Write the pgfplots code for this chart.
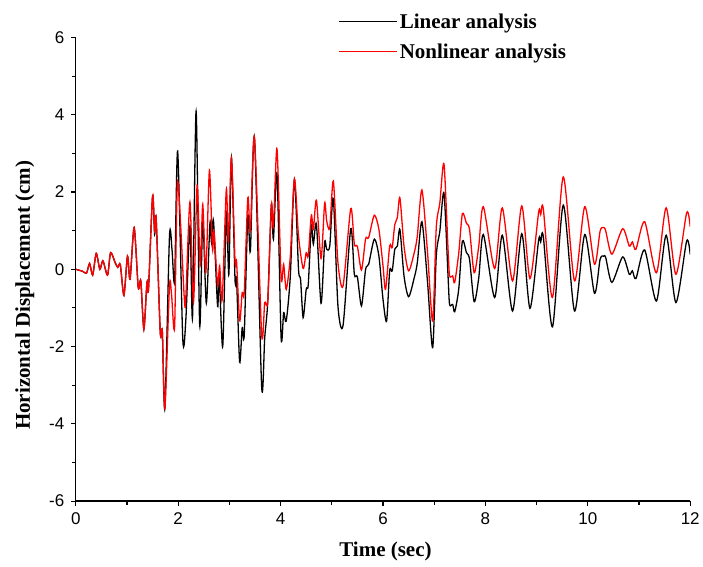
\documentclass[border={12bp 2.5bp 0bp 11.5bp}]{standalone}
\usepackage{fontspec}
\setmainfont{Liberation Serif}
\newfontfamily\arialfont{Liberation Sans}
\usepackage{pgfplots}
\pgfplotsset{compat=1.18}
\begin{document}
\begin{tikzpicture}
\begin{axis}[
  scale only axis,
  width=615bp, height=464bp,
  xmin=0, xmax=12, ymin=-6, ymax=6,
  axis lines*=left,
  axis line style={line width=1.3bp},
  tick align=outside,
  tick style={line width=1.1bp, black},
  major tick length=5bp, minor tick length=3.5bp,
  xtick={0,2,...,12}, ytick={-6,-4,...,6},
  minor x tick num=1, minor y tick num=1,
  /pgf/number format/assume math mode=true,
  tick label style={font=\arialfont\fontsize{17bp}{19bp}\selectfont},
  xticklabel style={yshift=-3bp},
  yticklabel style={xshift=-3bp},
  xlabel={Time (sec)},
  ylabel={Horizontal Displacement (cm)},
  label style={font=\bfseries\fontsize{21bp}{23bp}\selectfont},
  xlabel style={at={(ticklabel cs:0.504)}, anchor=north, yshift=-10bp},
  ylabel style={at={(ticklabel cs:0.444)}, anchor=south, yshift=8bp},
  legend style={draw=none, fill=none, at={(rel axis cs:0.4265,1.0565)}, anchor=north west,
    font=\bfseries\fontsize{21bp}{23bp}\selectfont, row sep=10bp, inner sep=0bp},
  legend cell align=left,
  legend image code/.code={\draw[#1, line width=1.8bp] (0bp,0bp) -- (58bp,0bp);},
  clip=true,
]
\addplot[black, line width=1.3bp, smooth, tension=0.45] coordinates {
(0,0) (0.13,-0.05) (0.21,-0.1) (0.27,0.15) (0.33,-0.15) (0.40,0.41) (0.47,0.0)
(0.53,0.22) (0.62,-0.15) (0.68,0.43) (0.77,0.17) (0.82,0.05) (0.87,0.12)
(0.94,-0.67) (1.01,0.34) (1.06,-0.26) (1.14,1.08) (1.22,-0.47) (1.27,-0.3)
(1.33,-1.55) (1.39,-0.34) (1.42,-0.52) (1.50,1.9) (1.54,0.9) (1.57,1.31)
(1.65,-1.63) (1.69,-1.6) (1.74,-3.6) (1.83,0.85) (1.88,0.5) (1.93,-0.3)
(1.99,3.06) (2.09,-1.81) (2.15,-1.29) (2.23,1.12) (2.28,-1.25) (2.35,4.09)
(2.42,-1.45) (2.48,1.25) (2.55,-0.88) (2.62,1.19) (2.65,0.7) (2.69,1.25)
(2.77,-0.96) (2.80,-0.1) (2.87,-2.0) (2.94,1.42) (2.99,-0.13) (3.04,2.89)
(3.11,-0.26) (3.14,-0.26) (3.20,-2.4) (3.25,-1.51) (3.29,-1.7) (3.36,1.38)
(3.41,0.47) (3.49,3.4) (3.63,-3.03) (3.69,-1.77) (3.75,-0.82) (3.82,1.68)
(3.86,0.78) (3.93,2.46) (4.01,-1.77) (4.06,-1.12) (4.11,-1.34) (4.19,-0.17)
(4.27,2.33) (4.35,0) (4.39,-0.26) (4.44,-1.25) (4.50,-0.52) (4.54,-0.4)
(4.60,1.12) (4.64,0.65) (4.70,1.16) (4.79,-0.88) (4.86,0.69) (4.90,0.52)
(4.96,0.6) (5.03,1.83) (5.12,-0.95) (5.22,-1.45) (5.37,1.05) (5.44,-0.13)
(5.50,-0.2) (5.58,-0.95) (5.66,0) (5.72,0.13) (5.83,0.78) (5.92,0.34)
(6.00,-0.78) (6.07,-1.34) (6.13,-0.04) (6.18,-0.04) (6.23,0.52) (6.28,0.6)
(6.33,1.03) (6.41,-0.17) (6.50,-0.71) (6.61,-0.22) (6.67,0.17) (6.76,1.23)
(6.87,-0.34) (6.97,-2.03) (7.04,0.34) (7.11,0.99) (7.19,1.98) (7.27,-0.17)
(7.30,-0.91) (7.36,-0.91) (7.40,-1.1) (7.48,-0.5) (7.55,0.73) (7.63,0.43)
(7.69,0.26) (7.78,-0.84) (7.87,-0.22) (7.96,0.9) (8.18,-0.73) (8.33,0.88)
(8.53,-1.08) (8.71,0.92) (8.87,-1.01) (9.04,0.76) (9.08,0.71) (9.13,0.85)
(9.31,-1.49) (9.52,1.66) (9.74,-1.08) (9.94,0.9) (10.13,-0.62) (10.24,0.26)
(10.31,0.34) (10.35,0.3) (10.47,-0.34) (10.68,0.32) (10.81,-0.13) (10.87,-0.04)
(10.94,-0.24) (11.11,0.50) (11.34,-0.82) (11.53,0.88) (11.72,-0.86)
(11.93,0.73) (12.0,0.38)
};
\addlegendentry{Linear analysis}
\addplot[red, line width=1.3bp, smooth, tension=0.45] coordinates {
(0,0) (0.13,-0.05) (0.21,-0.1) (0.27,0.15) (0.33,-0.15) (0.40,0.41) (0.47,0.0)
(0.53,0.22) (0.62,-0.15) (0.68,0.43) (0.77,0.17) (0.82,0.05) (0.87,0.12)
(0.94,-0.67) (1.01,0.34) (1.06,-0.26) (1.14,1.08) (1.22,-0.47) (1.27,-0.3)
(1.33,-1.55) (1.39,-0.34) (1.42,-0.52) (1.50,1.9) (1.54,0.97) (1.57,1.31)
(1.65,-1.63) (1.69,-1.6) (1.74,-3.6) (1.83,-0.43) (1.87,-0.65) (1.93,-1.5)
(1.99,2.28) (2.12,-0.76) (2.15,-0.7) (2.23,1.74) (2.30,-0.84) (2.37,2.17)
(2.43,0.09) (2.48,1.68) (2.54,-0.09) (2.61,2.56) (2.67,0.52) (2.70,0.99)
(2.77,-0.43) (2.81,0.09) (2.86,-0.78) (2.94,2.07) (2.98,0.7) (3.04,2.89)
(3.11,0.22) (3.14,0.2) (3.20,-1.34) (3.25,-0.6) (3.29,-0.6) (3.36,1.85)
(3.41,0.98) (3.49,3.4) (3.63,-1.68) (3.69,-0.86) (3.75,-0.82) (3.82,1.66)
(3.86,1.1) (3.93,3.12) (4.01,-0.22) (4.06,0.13) (4.11,-0.52) (4.19,0.34)
(4.27,2.34) (4.35,0.86) (4.44,0.02) (4.50,0.43) (4.54,0.35) (4.60,1.4)
(4.64,1.03) (4.70,1.79) (4.79,0.28) (4.86,1.71) (4.90,1.25) (4.96,1.07)
(5.03,2.28) (5.12,0.17) (5.22,-0.43) (5.37,1.57) (5.44,0.65) (5.50,0.59)
(5.58,-0.02) (5.66,0.79) (5.72,0.82) (5.83,1.4) (5.92,1.03) (6.00,0.09)
(6.05,-0.52) (6.13,0.6) (6.18,0.56) (6.23,1.16) (6.28,1.34) (6.33,1.85)
(6.41,0.6) (6.50,-0.04) (6.61,0.43) (6.67,0.86) (6.76,2.05) (6.87,0.43)
(6.97,-1.34) (7.04,1.08) (7.11,1.72) (7.19,2.73) (7.27,0.52) (7.30,-0.17)
(7.36,-0.17) (7.40,-0.34) (7.48,0.43) (7.55,1.44) (7.63,1.19) (7.69,1.03)
(7.78,-0.09) (7.87,0.6) (7.96,1.62) (8.18,0.02) (8.33,1.59) (8.53,-0.30)
(8.71,1.64) (8.87,-0.24) (9.04,1.48) (9.08,1.42) (9.13,1.57) (9.31,-0.73)
(9.52,2.39) (9.74,-0.30) (9.94,1.62) (10.13,0.13) (10.24,0.99) (10.31,1.08)
(10.35,0.99) (10.47,0.39) (10.68,1.05) (10.81,0.60) (10.87,0.71) (10.94,0.52)
(11.11,1.23) (11.34,-0.09) (11.53,1.59) (11.72,-0.13) (11.93,1.46) (12.0,1.1)
};
\addlegendentry{Nonlinear analysis}
\end{axis}
\end{tikzpicture}
\end{document}
